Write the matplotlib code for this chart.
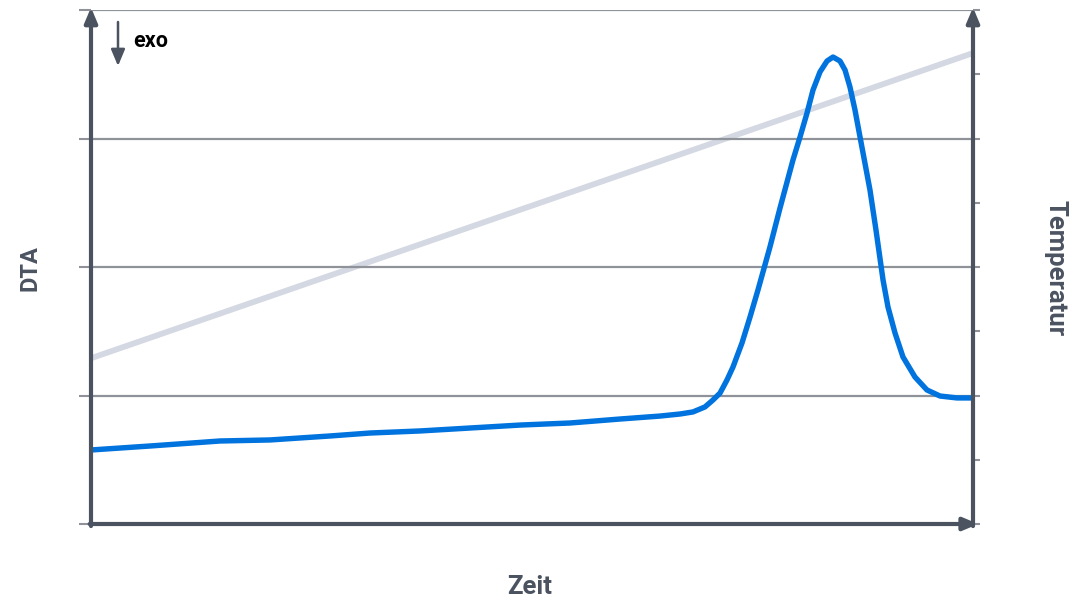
import matplotlib.pyplot as plt

plt.rcParams['font.family'] = ['Roboto', 'DejaVu Sans']

# Zeit (0..100), DTA signal (grid units 0..4)
zeit = [0, 6.69, 14.63, 20.29, 27.10, 31.63, 37.30, 42.97, 48.64, 54.31,
        59.98, 64.51, 66.78, 68.25, 69.61, 70.52, 71.32, 72.11, 72.79, 73.81,
        74.72, 75.62, 76.98, 78.12, 79.59, 80.39, 81.18, 81.86, 82.65, 83.45,
        84.13, 84.92, 85.49, 86.05, 86.62, 87.19, 87.64, 88.32, 89.00, 89.80,
        90.36, 91.16, 92.06, 93.42, 94.78, 96.26, 98.19, 100]
dta = [0.576, 0.607, 0.646, 0.654, 0.685, 0.708, 0.724, 0.747, 0.770, 0.786,
       0.817, 0.840, 0.856, 0.872, 0.911, 0.965, 1.019, 1.121, 1.222, 1.409,
       1.611, 1.821, 2.156, 2.459, 2.833, 3.012, 3.198, 3.377, 3.518, 3.603,
       3.634, 3.603, 3.533, 3.401, 3.222, 3.012, 2.848, 2.599, 2.288, 1.899,
       1.689, 1.486, 1.300, 1.144, 1.043, 0.996, 0.981, 0.981]

# Temperatur (right axis, 0..8)
zeit_temp = [0, 100]
temp = [2.58, 7.33]

dark = '#4b5361'
grid = '#8f9399'

fig = plt.figure(figsize=(10.7, 6), dpi=100)
ax = fig.add_axes([91/1070, 76/600, 882/1070, 514/600])
ax2 = ax.twinx()

ax.set_xlim(0, 100)
ax.set_ylim(0, 4)
ax2.set_ylim(0, 8)

for s in ax.spines.values():
    s.set_visible(False)
for s in ax2.spines.values():
    s.set_visible(False)

ax.set_yticks([0, 1, 2, 3, 4])
ax.set_yticklabels([])
ax.set_xticks([])
ax.tick_params(axis='y', length=9, width=1.5, color=grid, direction='out')
ax.grid(axis='y', color=grid, linewidth=1.6)
ax.set_axisbelow(True)

ax2.set_yticks(range(9))
ax2.set_yticklabels([])
ax2.tick_params(axis='y', length=5, width=1.5, color=grid, direction='out')

ax2.plot(zeit_temp, temp, color='#d4d8e2', linewidth=4.2, solid_capstyle='butt')
ax.plot(zeit, dta, color='#0073de', linewidth=3.9, solid_joinstyle='round')
ax.set_zorder(ax2.get_zorder() + 1)
ax.patch.set_visible(False)

# axes with arrow heads
arrow = dict(arrowstyle='-|>,head_length=0.9,head_width=0.38', color=dark,
             linewidth=3, shrinkA=0, shrinkB=0)
ax.annotate('', xy=(0, 1.005), xytext=(0, -0.004), xycoords='axes fraction',
            arrowprops=arrow, annotation_clip=False)
ax.annotate('', xy=(1, 1.005), xytext=(1, -0.004), xycoords='axes fraction',
            arrowprops=arrow, annotation_clip=False)
ax.annotate('', xy=(1.006, 0), xytext=(-0.0015, 0), xycoords='axes fraction',
            arrowprops=arrow, annotation_clip=False)

# exo marker
ax.annotate('', xy=(27/882, 1 - 56/514), xytext=(27/882, 1 - 12/514),
            xycoords='axes fraction',
            arrowprops=dict(arrowstyle='-|>,head_length=1.0,head_width=0.42',
                            color=dark, linewidth=1.8, shrinkA=0, shrinkB=0))
ax.text(42/882, 1 - 31/514, 'exo', transform=ax.transAxes, fontsize=15.5,
        fontweight='bold', color='black', va='center', ha='left')

fig.text(30/1070, 1 - 268/600, 'DTA', rotation=90, fontsize=17,
         fontweight='bold', color=dark, ha='center', va='center')
fig.text(1055/1070, 1 - 268/600, 'Temperatur', rotation=-90, fontsize=18.5,
         fontweight='bold', color=dark, ha='center', va='center')
fig.text(530/1070, 1 - 587/600, 'Zeit', fontsize=18.5,
         fontweight='bold', color=dark, ha='center', va='center')

fig.savefig('out.png', dpi=100)
